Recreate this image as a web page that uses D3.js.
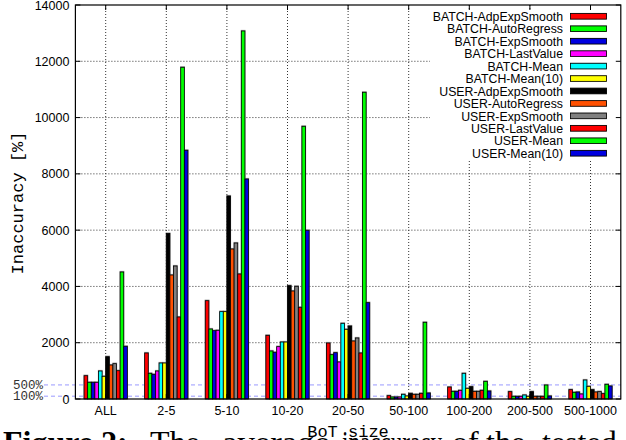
<!DOCTYPE html>
<html><head><meta charset="utf-8">
<script src="https://cdn.jsdelivr.net/npm/d3@7"></script>
<style>html,body{margin:0;padding:0;background:#fff;overflow:hidden}</style>
</head><body>
<svg id="chart" width="626" height="440"></svg>
<script>
const categories = ["ALL","2-5","5-10","10-20","20-50","50-100","100-200","200-500","500-1000"];
const seriesNames = ["BATCH-AdpExpSmooth","BATCH-AutoRegress","BATCH-ExpSmooth","BATCH-LastValue","BATCH-Mean","BATCH-Mean(10)","USER-AdpExpSmooth","USER-AutoRegress","USER-ExpSmooth","USER-LastValue","USER-Mean","USER-Mean(10)"];
const batchAdpExpSmooth = [828, 1635, 3493, 2262, 1990, 118, 426, 261, 332];
const batchAutoRegress  = [593, 912, 2487, 1706, 1575, 71, 272, 95, 237];
const batchExpSmooth    = [593, 877, 2428, 1659, 1646, 71, 272, 95, 249];
const batchLastValue    = [593, 995, 2440, 1860, 1315, 71, 308, 95, 178];
const batchMean         = [995, 1279, 3104, 2025, 2689, 166, 912, 142, 675];
const batchMean10       = [806, 1279, 3104, 2025, 2476, 107, 379, 95, 450];
const userAdpExpSmooth  = [1503, 5880, 7213, 4027, 2594, 201, 438, 261, 332];
const userAutoRegress   = [1208, 4406, 5330, 3838, 2061, 166, 272, 95, 249];
const userExpSmooth     = [1255, 4726, 5543, 4004, 2168, 166, 272, 95, 261];
const userLastValue     = [1006, 2914, 4442, 3258, 1635, 201, 308, 95, 190];
const userMean          = [4513, 11787, 13077, 9689, 10898, 2725, 627, 497, 521];
const userMean10        = [1872, 8837, 7817, 5994, 3423, 213, 284, 107, 462];
const seriesValues = [batchAdpExpSmooth, batchAutoRegress, batchExpSmooth, batchLastValue, batchMean, batchMean10,
  userAdpExpSmooth, userAutoRegress, userExpSmooth, userLastValue, userMean, userMean10];
const yTicks = [0,2000,4000,6000,8000,10000,12000,14000];
const refLines = [500, 100];
const refLabels = ["500%", "100%"];

const colors = ["#ff0000","#00ff00","#0000e0","#ff00ff","#00ffff","#ffff00","#000000","#ff5000","#808080","#ff0000","#00ff00","#0000e0"];

const svg = d3.select("#chart");
const L = 75.4, R = 620.8, T = 5, B = 399;
const x = d3.scaleBand().domain(categories).range([L, R]).padding(0);
const bw = x.bandwidth();
const groupFrac = 0.714;
const x1 = d3.scaleBand().domain(seriesNames).range([bw*(1-groupFrac)/2, bw*(1+groupFrac)/2]).padding(0);
const y = d3.scaleLinear().domain([0, 14000]).range([B, T]);

// grid
const grid = svg.append("g");
grid.selectAll("line.h").data(yTicks.slice(1, -1)).join("line")
  .attr("x1", L).attr("x2", R).attr("y1", d => y(d)).attr("y2", d => y(d))
  .attr("stroke", "#333").attr("stroke-width", 1).attr("stroke-dasharray", "1,2");
grid.selectAll("line.v").data(categories).join("line")
  .attr("x1", d => x(d) + bw/2).attr("x2", d => x(d) + bw/2).attr("y1", T).attr("y2", B)
  .attr("stroke", "#333").attr("stroke-width", 1).attr("stroke-dasharray", "1,2");

// reference lines
svg.selectAll("line.ref").data(refLines).join("line")
  .attr("x1", 44).attr("x2", R).attr("y1", d => y(d)).attr("y2", d => y(d))
  .attr("stroke", "#9999ff").attr("stroke-width", 1).attr("stroke-dasharray", "4,3");
svg.selectAll("text.ref").data(refLines).join("text")
  .attr("x", 43).attr("y", d => y(d) + 4).attr("text-anchor", "end")
  .attr("font-family", "Liberation Mono, monospace").attr("font-size", 12.5).attr("fill", "#333")
  .text((d, i) => refLabels[i]);

// key background (opaque)
svg.append("rect").attr("x", 430).attr("y", 9).attr("width", R - 430 - 1).attr("height", 152).attr("fill", "#fff");

// bars
const flat = [];
categories.forEach((c, ci) => seriesNames.forEach((s, si) => flat.push({c, s, si, v: seriesValues[si][ci]})));
const bars = svg.append("g");
bars.selectAll("rect.sh").data(flat).join("rect")
  .attr("x", d => x(d.c) + x1(d.s) - 0.6).attr("y", d => y(d.v) - 1.1)
  .attr("width", x1.bandwidth() + 1.2).attr("height", d => B - y(d.v) + 1.1)
  .attr("fill", "#999");
bars.selectAll("rect.b").data(flat).join("rect")
  .attr("x", d => x(d.c) + x1(d.s)).attr("y", d => y(d.v))
  .attr("width", x1.bandwidth()).attr("height", d => B - y(d.v))
  .attr("fill", d => colors[d.si]).attr("stroke", "#000").attr("stroke-width", 0.8);

// border
svg.append("rect").attr("x", L).attr("y", T).attr("width", R - L).attr("height", B - T)
  .attr("fill", "none").attr("stroke", "#000").attr("stroke-width", 1.2);

// ticks (inward, mirrored)
const tk = svg.append("g").attr("stroke", "#000").attr("stroke-width", 1);
yTicks.forEach(t => {
  tk.append("line").attr("x1", L).attr("x2", L + 5).attr("y1", y(t)).attr("y2", y(t));
  tk.append("line").attr("x1", R).attr("x2", R - 5).attr("y1", y(t)).attr("y2", y(t));
});
categories.forEach(c => {
  const cx = x(c) + bw/2;
  tk.append("line").attr("x1", cx).attr("x2", cx).attr("y1", B).attr("y2", B - 5);
  tk.append("line").attr("x1", cx).attr("x2", cx).attr("y1", T).attr("y2", T + 5);
});

// tick labels
const yAxis = d3.axisLeft(y).tickValues(yTicks).tickSize(0).tickPadding(6).tickFormat(d3.format("d"));
const ya = svg.append("g").attr("transform", `translate(${L},0)`).call(yAxis);
ya.select(".domain").remove();
ya.selectAll("text").attr("font-family", "Liberation Sans, Arial, sans-serif").attr("font-size", 12.5).attr("fill", "#000");
const xAxis = d3.axisBottom(x).tickSize(0).tickPadding(0);
const xa = svg.append("g").attr("transform", `translate(0,${B})`).call(xAxis);
xa.select(".domain").remove();
xa.selectAll("text").attr("font-family", "Liberation Sans, Arial, sans-serif").attr("font-size", 12.5).attr("fill", "#000")
  .attr("dy", null).attr("y", 16);

// axis titles
svg.append("text").attr("transform", "translate(23,203) rotate(-90)").attr("text-anchor", "middle")
  .attr("font-family", "Liberation Mono, Courier New, monospace").attr("font-size", 17).text("Inaccuracy [%]");
svg.append("text").attr("x", 348).attr("y", 437).attr("text-anchor", "middle")
  .attr("font-family", "Liberation Mono, Courier New, monospace").attr("font-size", 17).text("BoT size");

// legend
const lg = svg.append("g");
const rowH = 12.45, row0 = 16.5;
seriesNames.forEach((s, i) => {
  const cy = row0 + i * rowH;
  lg.append("text").attr("x", 563).attr("y", cy + 4.4).attr("text-anchor", "end")
    .attr("font-family", "Liberation Sans, Arial, sans-serif").attr("font-size", 12.3).text(s);
  lg.append("rect").attr("x", 570).attr("y", cy - 3.6).attr("width", 37).attr("height", 6.6).attr("fill", "#999");
  lg.append("rect").attr("x", 570.6).attr("y", cy - 3).attr("width", 36).attr("height", 5.6)
    .attr("fill", colors[i]).attr("stroke", "#000").attr("stroke-width", 0.8);
});

// caption (cut off at bottom of the crop)
const cap = svg.append("text").attr("y", 453).attr("font-family", "Liberation Serif, Times New Roman, serif").attr("font-size", 32);
cap.append("tspan").attr("x", 3).attr("font-weight", "bold").text("Figure 2:");
cap.append("tspan").attr("x", 150).text("The");
cap.append("tspan").attr("x", 222).attr("textLength", 108).attr("lengthAdjust", "spacingAndGlyphs").text("average");
cap.append("tspan").attr("x", 342).attr("textLength", 100).attr("lengthAdjust", "spacingAndGlyphs").text("inaccuracy");
cap.append("tspan").attr("x", 452).text("of");
cap.append("tspan").attr("x", 486).text("the");
cap.append("tspan").attr("x", 542).text("tested");
</script>
</body></html>
